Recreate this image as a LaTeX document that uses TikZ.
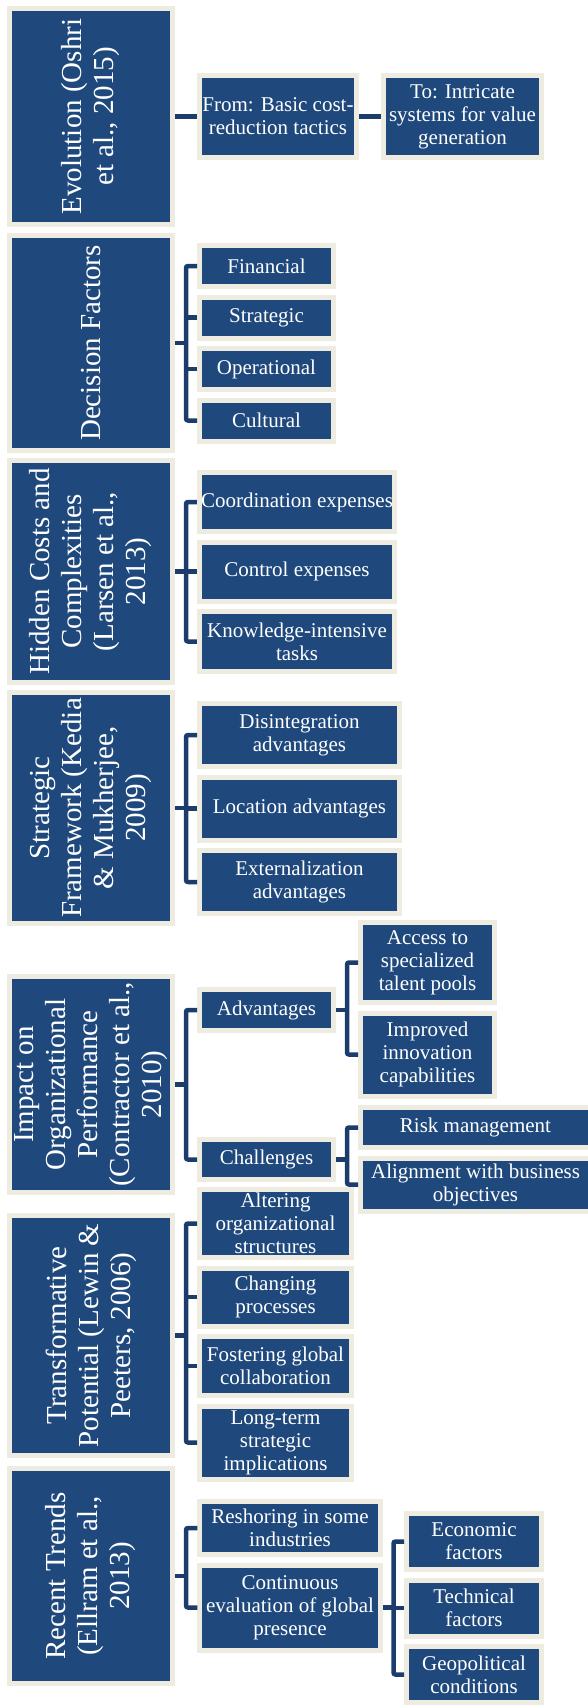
\documentclass[tikz,border=0pt]{standalone}
\usepackage{fontspec}
\setmainfont{Liberation Serif}
\usepackage{xcolor}
\usepackage{tikz}
\usetikzlibrary{positioning}

\definecolor{boxblue}{HTML}{1F497D}
\definecolor{boxrim}{HTML}{EEECE1}
\definecolor{linkblue}{HTML}{1C3D6B}

\begin{document}
\begin{tikzpicture}[
  x=1pt, y=-1pt,
  node distance=5.5pt,
  every node/.style={font=\fontsize{21}{23}\selectfont, text=white},
  topic/.style={rectangle, draw=boxrim, line width=5pt, fill=boxblue,
                align=center, rotate=90, inner sep=1pt,
                minimum height=163pt, font=\fontsize{29}{32}\selectfont},
  leaf/.style={rectangle, draw=boxrim, line width=5pt, fill=boxblue,
               align=center, inner sep=1pt},
  link/.style={draw=linkblue, line width=4.5pt, rounded corners=2pt}
]
\useasboundingbox (0,0) rectangle (588,1708);

% Evolution
\node[topic, minimum width=216pt] (evo) at (91,116.5) {Evolution (Oshri\\et al., 2015)};
\node[leaf, minimum width=157pt, minimum height=82pt] (from) at (278,116.5) {From: Basic cost-\\reduction tactics};
\node[leaf, minimum width=158pt, minimum height=82pt, right=22pt of from] (to) {To: Intricate\\systems for value\\generation};

% Decision factors
\node[topic, minimum width=215pt] (dec) at (91,343) {Decision Factors};
\node[leaf, minimum width=134pt, minimum height=41pt] (fin) at (266.5,266) {Financial};
\node[leaf, minimum width=134pt, minimum height=41pt, below=of fin] (stra) {Strategic};
\node[leaf, minimum width=134pt, minimum height=41pt, below=of stra] (oper) {Operational};
\node[leaf, minimum width=134pt, minimum height=41pt, below=of oper] (cult) {Cultural};

% Hidden costs
\node[topic, minimum width=222pt] (hid) at (91,571.5) {Hidden Costs and\\Complexities\\(Larsen et al.,\\2013)};
\node[leaf, minimum width=195.5pt, minimum height=59pt] (coord) at (297,502) {Coordination expenses};
\node[leaf, minimum width=195.5pt, minimum height=59pt, below=of coord] (ctrl) {Control expenses};
\node[leaf, minimum width=195.5pt, minimum height=60pt, below=of ctrl] (know) {Knowledge-intensive\\tasks};

% Strategic framework
\node[topic, minimum width=231pt] (frame) at (91,808) {Strategic\\Framework (Kedia\\\& Mukherjee,\\2009)};
\node[leaf, minimum width=200pt, minimum height=63pt] (disint) at (299.5,735) {Disintegration\\advantages};
\node[leaf, minimum width=200pt, minimum height=63pt, below=of disint] (loc) {Location advantages};
\node[leaf, minimum width=200pt, minimum height=63pt, below=of loc] (ext) {Externalization\\advantages};

% Impact on performance
\node[topic, minimum width=216pt] (imp) at (91,1084.5) {Impact on\\Organizational\\Performance\\(Contractor et al.,\\2010)};
\node[leaf, minimum width=134pt, minimum height=41pt] (adv) at (266.5,1010) {Advantages};
\node[leaf, minimum width=134pt, minimum height=40pt] (chal) at (266.5,1159.5) {Challenges};
\node[leaf, minimum width=134pt, minimum height=80pt] (access) at (427.5,962.5) {Access to\\specialized\\talent pools};
\node[leaf, minimum width=134pt, minimum height=83pt, below=of access] (innov) {Improved\\innovation\\capabilities};
\node[leaf, minimum width=230pt, minimum height=40pt] (risk) at (475.5,1127.5) {Risk management};
\node[leaf, minimum width=230pt, minimum height=53pt, below=of risk] (align) {Alignment with business\\objectives};

% Transformative potential
\node[topic, minimum width=240pt] (trans) at (91,1335.5) {Transformative\\Potential (Lewin \&\\Peeters, 2006)};
\node[leaf, minimum width=152pt, minimum height=68pt] (alter) at (275.5,1223.5) {Altering\\organizational\\structures};
\node[leaf, minimum width=152pt, minimum height=58pt, below=of alter] (proc) {Changing\\processes};
\node[leaf, minimum width=152pt, minimum height=59pt, below=of proc] (collab) {Fostering global\\collaboration};
\node[leaf, minimum width=152pt, minimum height=73pt, below=of collab] (longt) {Long-term\\strategic\\implications};

% Recent trends
\node[topic, minimum width=215pt] (trend) at (91,1576) {Recent Trends\\(Ellram et al.,\\2013)};
\node[leaf, minimum width=180.5pt, minimum height=53pt] (resh) at (290,1528) {Reshoring in some\\industries};
\node[leaf, minimum width=180.5pt, minimum height=85pt, below=of resh] (cont) {Continuous\\evaluation of global\\presence};
\node[leaf, minimum width=135pt, minimum height=56pt] (econ) at (474,1541.5) {Economic\\factors};
\node[leaf, minimum width=135pt, minimum height=56pt, below=of econ] (tech) {Technical\\factors};
\node[leaf, minimum width=135pt, minimum height=56pt, below=of tech] (geo) {Geopolitical\\conditions};

% connectors
\draw[link] (evo.south) -- (from.west);
\draw[link] (from.east) -- (to.west);

\draw[link] (dec.south) -- ++(11,0) coordinate (decj);
\draw[link] (fin.west) -| (decj) |- (cult.west);
\draw[link] (stra.west) -- (stra.west -| decj);
\draw[link] (oper.west) -- (oper.west -| decj);

\draw[link] (hid.south) -- ++(11,0) coordinate (hidj);
\draw[link] (coord.west) -| (hidj) |- (know.west);
\draw[link] (ctrl.west) -- (ctrl.west -| hidj);

\draw[link] (frame.south) -- ++(11,0) coordinate (framej);
\draw[link] (disint.west) -| (framej) |- (ext.west);
\draw[link] (loc.west) -- (loc.west -| framej);

\draw[link] (imp.south) -- ++(11,0) coordinate (impj);
\draw[link] (adv.west) -| (impj) |- (chal.west);
\draw[link] (adv.east) -- ++(11,0) coordinate (advj);
\draw[link] (access.west) -| (advj) |- (innov.west);
\draw[link] (chal.east) -- ++(11,0) coordinate (chalj);
\draw[link] (risk.west) -| (chalj) |- (align.west);

\draw[link] (trans.south) -- ++(11,0) coordinate (transj);
\draw[link] (alter.west) -| (transj) |- (longt.west);
\draw[link] (proc.west) -- (proc.west -| transj);
\draw[link] (collab.west) -- (collab.west -| transj);

\draw[link] (trend.south) -- ++(11,0) coordinate (trendj);
\draw[link] (resh.west) -| (trendj) |- (cont.west);
\draw[link] (cont.east) -- ++(10.75,0) coordinate (contj);
\draw[link] (econ.west) -| (contj) |- (geo.west);
\draw[link] (tech.west) -- (tech.west -| contj);

\end{tikzpicture}
\end{document}
